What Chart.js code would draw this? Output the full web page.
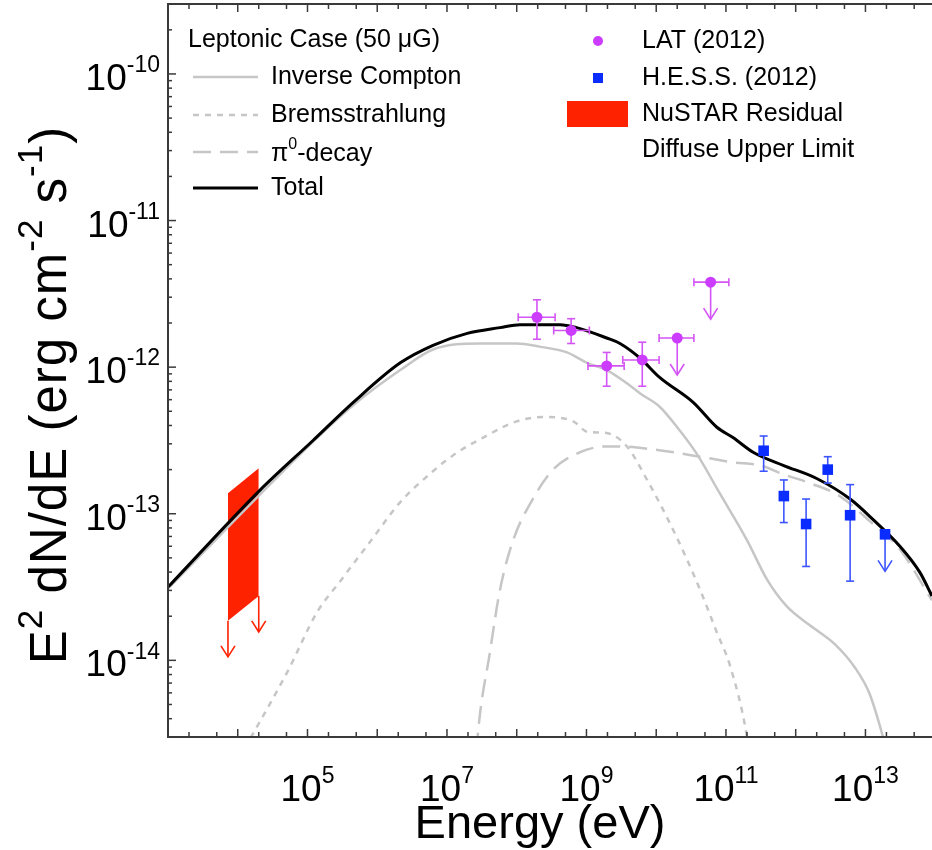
<!DOCTYPE html>
<html>
<head>
<meta charset="utf-8">
<script src="https://cdn.jsdelivr.net/npm/chart.js@4.4.0/dist/chart.umd.min.js"></script>
<style>
  html, body { margin: 0; padding: 0; background: #fff; }
  #wrap { width: 932px; height: 850px; }
</style>
</head>
<body>
<div id="wrap"><canvas id="sedChart" width="932" height="850"></canvas></div>
<script>
// Energy in eV, flux as E^2 dN/dE in erg cm^-2 s^-1

// Model curves
const totalE = [1e3, 2.09e4, 1.2e5, 4.79e5, 2.14e6, 6.31e6, 1.95e7, 5.75e7, 1.12e8, 4.17e8, 7.24e8, 1.95e9, 3.02e9, 5.89e9, 1.12e10, 3.39e10, 7.41e10, 1.26e11, 2.45e11, 6.61e11, 2.0e12, 6.03e12, 1.29e13, 3.09e13, 6.03e13, 9.0e13];
const totalF = [3.16e-14, 1.45e-13, 3.16e-13, 5.89e-13, 1.07e-12, 1.41e-12, 1.70e-12, 1.86e-12, 1.95e-12, 1.95e-12, 1.86e-12, 1.58e-12, 1.45e-12, 1.15e-12, 8.51e-13, 5.75e-13, 3.89e-13, 3.31e-13, 2.63e-13, 2.14e-13, 1.74e-13, 1.26e-13, 9.12e-14, 6.03e-14, 3.98e-14, 2.75e-14];

const icE = [1e3, 1.2e5, 4.79e5, 2.14e6, 6.31e6, 2.95e7, 1e8, 2.14e8, 5.25e8, 1.02e9, 1.95e9, 3.80e9, 5.89e9, 1.12e10, 2.0e10, 3.80e10, 8.13e10, 2.0e11, 3.89e11, 7.41e11, 1.58e12, 3.63e12, 7.08e12, 1.15e13, 1.78e13, 2.24e13];
const icF = [3.09e-14, 3.09e-13, 5.62e-13, 9.55e-13, 1.32e-12, 1.45e-12, 1.45e-12, 1.38e-12, 1.26e-12, 1.07e-12, 9.55e-13, 7.76e-13, 6.61e-13, 5.37e-13, 3.89e-13, 2.57e-13, 1.38e-13, 6.61e-14, 3.55e-14, 2.34e-14, 1.74e-14, 1.29e-14, 8.91e-15, 5.89e-15, 3.02e-15, 2.0e-15];

const bremsE = [1.26e4, 5.13e4, 1.38e5, 2.95e5, 7.94e5, 2.14e6, 6.31e6, 1.23e7, 3.31e7, 1e8, 2.40e8, 6.46e8, 1.02e9, 1.95e9, 3.80e9, 7.41e9, 1.41e10, 2.75e10, 4.27e10, 7.41e10, 1.15e11, 2.0e11, 2.24e11];
const bremsF = [2.51e-15, 8.32e-15, 2.14e-14, 3.47e-14, 6.46e-14, 1.20e-13, 1.95e-13, 2.51e-13, 3.31e-13, 4.27e-13, 4.57e-13, 4.27e-13, 3.63e-13, 3.55e-13, 2.88e-13, 1.70e-13, 9.55e-14, 4.90e-14, 3.02e-14, 1.55e-14, 9.12e-15, 3.02e-15, 2.0e-15];

const pionE = [2.51e7, 2.75e7, 4.17e7, 5.75e7, 8.91e7, 1.70e8, 3.31e8, 8.13e8, 1.95e9, 3.02e9, 8.91e9, 4.27e10, 1.26e11, 3.09e11, 6.61e11, 1.58e12, 4.27e12, 1.15e13, 3.09e13, 9.0e13];
const pionF = [1.58e-15, 3.02e-15, 1.17e-14, 3.02e-14, 6.61e-14, 1.26e-13, 2.0e-13, 2.63e-13, 2.88e-13, 2.88e-13, 2.75e-13, 2.45e-13, 2.24e-13, 2.14e-13, 1.86e-13, 1.62e-13, 1.32e-13, 8.91e-14, 5.75e-14, 2.57e-14];

// Fermi-LAT points and upper limits
const latE   = [1.95e8, 6.03e8, 1.95e9, 6.31e9];
const latELo = [1.05e8, 3.39e8, 1.05e9, 3.31e9];
const latEHi = [3.55e8, 1.10e9, 3.47e9, 1.10e10];
const latF   = [2.19e-12, 1.78e-12, 1.02e-12, 1.12e-12];
const latFLo = [1.55e-12, 1.45e-12, 7.41e-13, 7.41e-13];
const latFHi = [2.88e-12, 2.14e-12, 1.26e-12, 1.48e-12];
const latUlE   = [2.0e10, 6.03e10];
const latUlELo = [1.10e10, 3.47e10];
const latUlEHi = [3.47e10, 1.10e11];
const latUlF   = [1.58e-12, 3.80e-12];

// H.E.S.S. points and upper limit
const hessE   = [3.47e11, 6.76e11, 1.41e12, 2.88e12, 6.03e12];
const hessF   = [2.69e-13, 1.32e-13, 8.51e-14, 2.0e-13, 9.77e-14];
const hessFLo = [1.95e-13, 8.71e-14, 4.37e-14, 1.62e-13, 3.47e-14];
const hessFHi = [3.39e-13, 1.70e-13, 1.26e-13, 2.45e-13, 1.58e-13];
const hessUlE = [1.91e13];
const hessUlF = [7.24e-14];

// NuSTAR residual band (upper limit)
const nustarE    = [7.24e3, 2.0e4];
const nustarFTop = [1.38e-13, 2.04e-13];
const nustarFBot = [1.86e-14, 2.75e-14];

// Axis labels
const xTickExps = [5, 7, 9, 11, 13];
const yTickExps = [-10, -11, -12, -13, -14];

const FONT = '"Liberation Sans", Arial, Helvetica, sans-serif';
const LAT_COLOR = '#cc3cff';
const LAT_BAR = '#d455f5';
const HESS_COLOR = '#0a2cff';
const HESS_BAR = '#3d55ff';
const NUSTAR_COLOR = '#ff2200';
const GREY = '#c6c6c6';

function pts(xs, ys) {
  return xs.map((x, i) => ({ x: x, y: ys[i] }));
}

// text with superscripts: parts = [[text, isSup], ...]
function richWidth(c, parts, size, supRatio) {
  let w = 0;
  parts.forEach(p => {
    c.font = (p[1] ? Math.round(size * supRatio) : size) + 'px ' + FONT;
    w += c.measureText(p[0]).width;
  });
  return w;
}
function drawRich(c, parts, x, y, size, align, supRatio) {
  supRatio = supRatio || 0.62;
  const w = richWidth(c, parts, size, supRatio);
  let cx = align === 'right' ? x - w : (align === 'center' ? x - w / 2 : x);
  c.textAlign = 'left';
  c.textBaseline = 'alphabetic';
  parts.forEach(p => {
    c.font = (p[1] ? Math.round(size * supRatio) : size) + 'px ' + FONT;
    c.fillText(p[0], cx, p[1] ? y - size * 0.48 : y);
    cx += c.measureText(p[0]).width;
  });
}

function line(c, x1, y1, x2, y2) {
  c.beginPath(); c.moveTo(x1, y1); c.lineTo(x2, y2); c.stroke();
}
function hBar(c, x1, x2, y) {
  line(c, x1, y, x2, y);
  line(c, x1, y - 4, x1, y + 4);
  line(c, x2, y - 4, x2, y + 4);
}
function vBar(c, x, y1, y2) {
  line(c, x, y1, x, y2);
  line(c, x - 4, y1, x + 4, y1);
  line(c, x - 4, y2, x + 4, y2);
}
function arrowDown(c, x, y, len) {
  line(c, x, y, x, y + len);
  c.beginPath();
  c.moveTo(x - 7, y + len - 11);
  c.lineTo(x, y + len);
  c.lineTo(x + 7, y + len - 11);
  c.stroke();
}

const sedDecor = {
  id: 'sedDecor',
  beforeDatasetDraw(chart, args) {
    const c = chart.ctx, xs = chart.scales.x, ys = chart.scales.y;
    const label = chart.data.datasets[args.index].label;
    c.save();
    c.lineWidth = 1.6;
    if (label === 'LAT (2012)') {
      c.strokeStyle = LAT_BAR;
      latE.forEach((e, i) => {
        const px = xs.getPixelForValue(e), py = ys.getPixelForValue(latF[i]);
        hBar(c, xs.getPixelForValue(latELo[i]), xs.getPixelForValue(latEHi[i]), py);
        vBar(c, px, ys.getPixelForValue(latFHi[i]), ys.getPixelForValue(latFLo[i]));
      });
      latUlE.forEach((e, i) => {
        const px = xs.getPixelForValue(e), py = ys.getPixelForValue(latUlF[i]);
        hBar(c, xs.getPixelForValue(latUlELo[i]), xs.getPixelForValue(latUlEHi[i]), py);
        arrowDown(c, px, py, 37);
      });
    } else if (label === 'H.E.S.S. (2012)') {
      c.strokeStyle = HESS_BAR;
      hessE.forEach((e, i) => {
        vBar(c, xs.getPixelForValue(e), ys.getPixelForValue(hessFHi[i]), ys.getPixelForValue(hessFLo[i]));
      });
      hessUlE.forEach((e, i) => {
        arrowDown(c, xs.getPixelForValue(e), ys.getPixelForValue(hessUlF[i]), 37);
      });
    }
    c.restore();
  },
  afterDatasetsDraw(chart) {
    const c = chart.ctx, xs = chart.scales.x, ys = chart.scales.y;
    // NuSTAR upper-limit arrows from the bottom of the band
    c.save();
    c.strokeStyle = NUSTAR_COLOR;
    c.lineWidth = 1.6;
    nustarE.forEach((e, i) => {
      arrowDown(c, xs.getPixelForValue(e), ys.getPixelForValue(nustarFBot[i]), 36);
    });
    c.restore();
  },
  afterDraw(chart) {
    const c = chart.ctx, xs = chart.scales.x, ys = chart.scales.y;
    const a = chart.chartArea;
    c.save();

    // frame
    c.strokeStyle = '#3a3a3a';
    c.lineWidth = 2;
    c.beginPath();
    c.moveTo(a.right + 2, a.top);
    c.lineTo(a.left, a.top);
    c.lineTo(a.left, a.bottom);
    c.lineTo(a.right + 2, a.bottom);
    c.stroke();

    // inward ticks
    c.lineWidth = 1.5;
    for (let p = 3; p <= 14; p++) {
      [1, 2, 5].forEach(m => {
        const v = m * Math.pow(10, p);
        if (v < xs.min || v > xs.max) return;
        const px = xs.getPixelForValue(v);
        const len = m === 1 ? 8 : 5;
        line(c, px, a.bottom, px, a.bottom - len);
        line(c, px, a.top, px, a.top + len);
      });
    }
    for (let p = -15; p <= -10; p++) {
      for (let m = 1; m <= 9; m++) {
        const v = m * Math.pow(10, p);
        if (v < ys.min || v > ys.max) continue;
        const py = ys.getPixelForValue(v);
        line(c, a.left, py, a.left + (m === 1 ? 8 : 4), py);
      }
    }

    // tick labels
    c.fillStyle = '#000';
    xTickExps.forEach(n => {
      const px = xs.getPixelForValue(Math.pow(10, n));
      drawRich(c, [['10', false], [String(n), true]], px, 801, 37, 'center');
    });
    yTickExps.forEach(n => {
      const py = ys.getPixelForValue(Math.pow(10, n));
      drawRich(c, [['10', false], [String(n), true]], 160, py + 16, 37, 'right');
    });

    // axis titles
    drawRich(c, [['Energy (eV)', false]], 540, 838, 47, 'center');
    c.save();
    c.translate(66, 395);
    c.rotate(-Math.PI / 2);
    c.letterSpacing = '1px';
    drawRich(c, [['E', false], ['2', true], [' dN/dE (erg cm', false], ['-2', true], [' s', false], ['-1', true], [')', false]], 0, 0, 51, 'center', 0.68);
    c.letterSpacing = '0px';
    c.restore();

    // legend, left block
    const LF = '25px ' + FONT;
    c.font = LF;
    c.textBaseline = 'middle';
    c.textAlign = 'left';
    c.fillText('Leptonic Case (50 \u03bcG)', 188, 40);
    const rows = [
      { y: 77, text: 'Inverse Compton', color: GREY, width: 2.5, dash: [] },
      { y: 115, text: 'Bremsstrahlung', color: GREY, width: 2.5, dash: [6, 6] },
      { y: 152, text: null, color: GREY, width: 2.5, dash: [18, 9] },
      { y: 188, text: 'Total', color: '#000', width: 3, dash: [] }
    ];
    rows.forEach(r => {
      c.strokeStyle = r.color;
      c.lineWidth = r.width;
      c.setLineDash(r.dash);
      line(c, 193, r.y, 258, r.y);
      c.setLineDash([]);
      if (r.text) {
        c.font = LF;
        c.textBaseline = 'middle';
        c.fillText(r.text, 271, r.y);
      }
    });
    drawRich(c, [['\u03c0', false], ['0', true], ['-decay', false]], 271, 161, 25, 'left');

    // legend, right block
    c.fillStyle = LAT_COLOR;
    c.beginPath(); c.arc(598, 41, 5, 0, Math.PI * 2); c.fill();
    c.fillStyle = HESS_COLOR;
    c.fillRect(593, 73, 10, 10);
    c.fillStyle = NUSTAR_COLOR;
    c.fillRect(567, 101, 61, 26);
    c.fillStyle = '#000';
    c.font = LF;
    c.textBaseline = 'middle';
    c.fillText('LAT (2012)', 642, 41);
    c.fillText('H.E.S.S. (2012)', 642, 78);
    c.fillText('NuSTAR Residual', 642, 114);
    c.fillText('Diffuse Upper Limit', 642, 150);

    c.restore();
  }
};

const sedCtx = document.getElementById('sedChart').getContext('2d');
new Chart(sedCtx, {
  type: 'scatter',
  data: {
    datasets: [
      {
        label: 'LAT (2012)',
        data: pts(latE.concat(latUlE), latF.concat(latUlF)),
        pointStyle: 'circle',
        pointRadius: 5.5,
        backgroundColor: LAT_COLOR,
        borderWidth: 0,
        showLine: false,
      },
      {
        label: 'H.E.S.S. (2012)',
        data: pts(hessE.concat(hessUlE), hessF.concat(hessUlF)),
        pointStyle: 'rect',
        pointRadius: 7.5,
        backgroundColor: HESS_COLOR,
        borderWidth: 0,
        showLine: false,
      },
      {
        label: 'Total',
        data: pts(totalE, totalF),
        showLine: true,
        borderColor: '#000',
        borderWidth: 3,
        pointRadius: 0,
        cubicInterpolationMode: 'monotone',
      },
      {
        label: 'Inverse Compton',
        data: pts(icE, icF),
        showLine: true,
        borderColor: GREY,
        borderWidth: 2.5,
        pointRadius: 0,
        cubicInterpolationMode: 'monotone',
      },
      {
        label: 'Bremsstrahlung',
        data: pts(bremsE, bremsF),
        showLine: true,
        borderColor: GREY,
        borderWidth: 2.5,
        borderDash: [6, 6],
        pointRadius: 0,
        cubicInterpolationMode: 'monotone',
      },
      {
        label: 'pi0-decay',
        data: pts(pionE, pionF),
        showLine: true,
        borderColor: GREY,
        borderWidth: 2.5,
        borderDash: [18, 9],
        pointRadius: 0,
        cubicInterpolationMode: 'monotone',
      },
      {
        label: 'NuSTAR Residual',
        data: pts(nustarE, nustarFTop),
        showLine: true,
        borderWidth: 0,
        borderColor: NUSTAR_COLOR,
        backgroundColor: NUSTAR_COLOR,
        pointRadius: 0,
        fill: '+1',
      },
      {
        label: 'NuSTAR lower',
        data: pts(nustarE, nustarFBot),
        showLine: true,
        borderWidth: 0,
        borderColor: NUSTAR_COLOR,
        pointRadius: 0,
      },
    ],
  },
  options: {
    responsive: false,
    animation: false,
    devicePixelRatio: 1,
    layout: { autoPadding: false, padding: { top: 4, right: 0, bottom: 0, left: 0 } },
    plugins: {
      legend: { display: false },
      tooltip: { enabled: false },
    },
    scales: {
      x: {
        type: 'logarithmic',
        min: 1e3,
        max: 9e13,
        ticks: { display: false },
        grid: { display: false },
        border: { display: false },
        afterFit: function (s) { s.height = 113; },
      },
      y: {
        type: 'logarithmic',
        min: 3e-15,
        max: 3e-10,
        ticks: { display: false },
        grid: { display: false },
        border: { display: false },
        afterFit: function (s) { s.width = 168; },
      },
    },
  },
  plugins: [sedDecor],
});
</script>
</body>
</html>
